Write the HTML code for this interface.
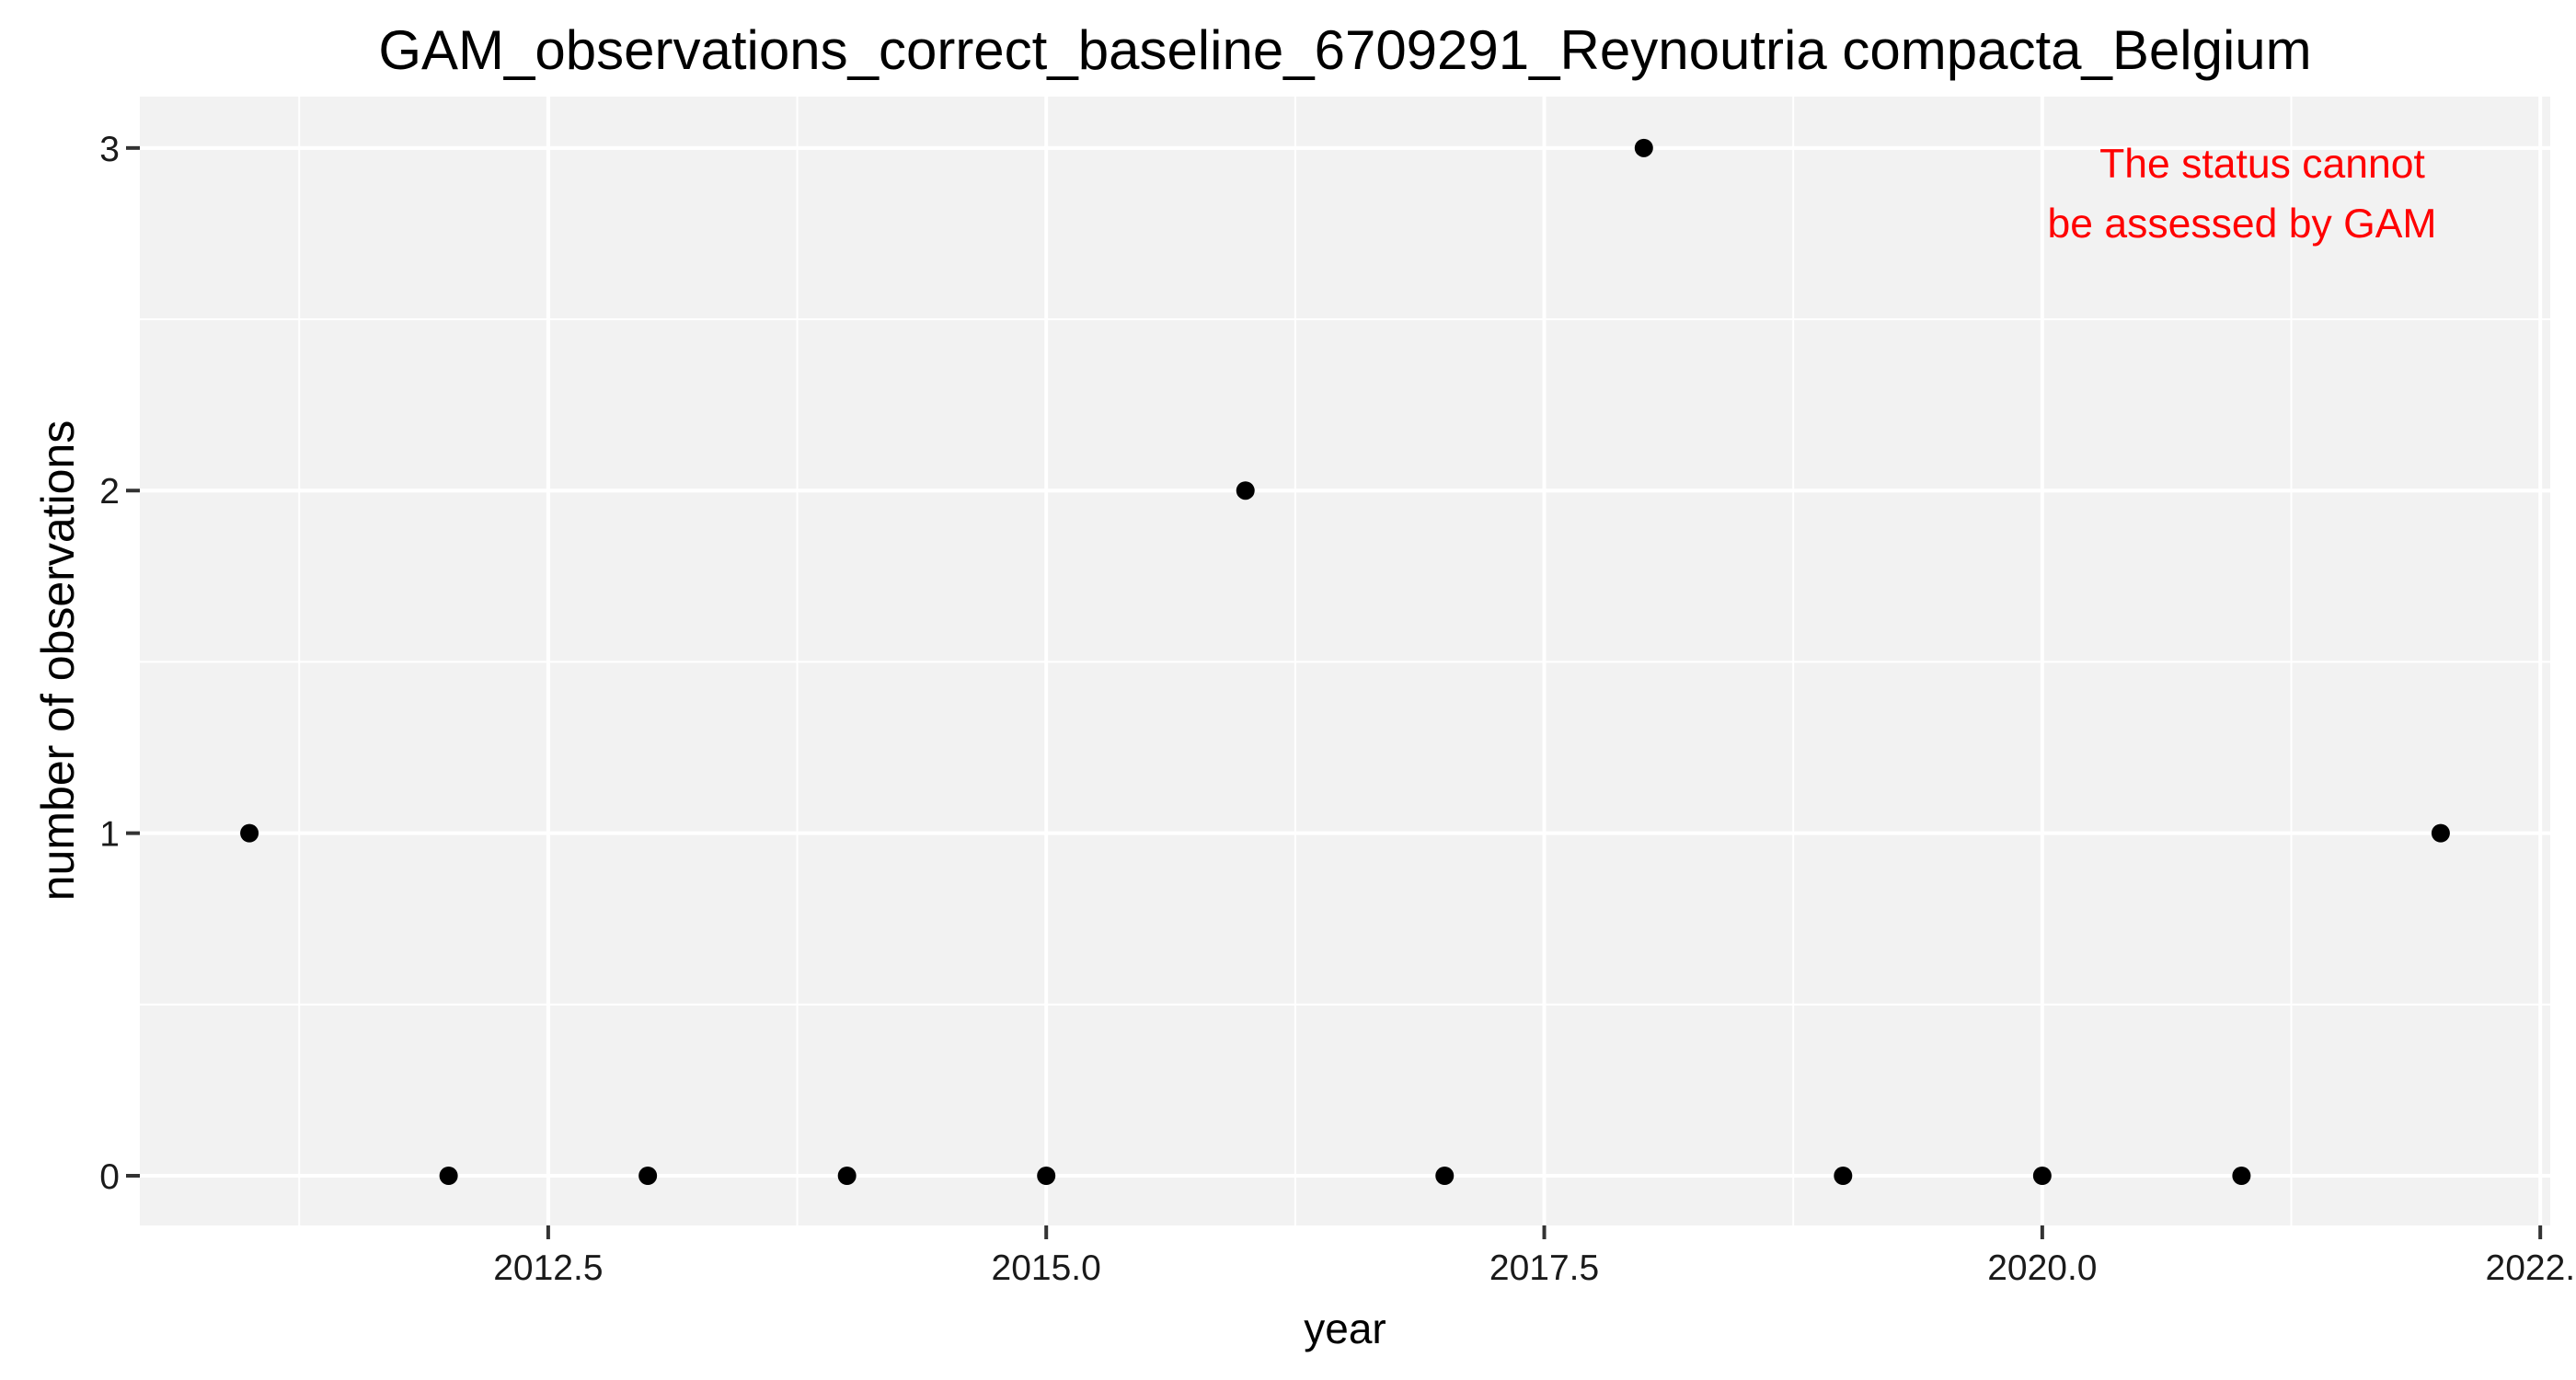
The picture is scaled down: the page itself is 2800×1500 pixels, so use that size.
<!DOCTYPE html>
<html><head><meta charset="utf-8"><style>html,body{margin:0;padding:0;background:#fff}svg{display:block}text{font-family:"Liberation Sans",Arial,sans-serif}</style></head>
<body>
<svg id="chart" width="2800" height="1500" viewBox="0 0 2800 1500" xmlns="http://www.w3.org/2000/svg">
<rect width="2800" height="1500" fill="#fff"/>
<text x="1462" y="75" font-size="60" text-anchor="middle" fill="#000">GAM_observations_correct_baseline_6709291_Reynoutria compacta_Belgium</text>
<g id="plot"></g>
</svg>
<script>
const years = [2011,2012,2013,2014,2015,2016,2017,2018,2019,2020,2021,2022];
const observations = [1,0,0,0,0,2,0,3,0,0,0,1];
const xTicks = [2012.5,2015.0,2017.5,2020.0,2022.5];
const xTickLabels = ["2012.5","2015.0","2017.5","2020.0","2022.5"];
const yTicks = [0,1,2,3];
const yTickLabels = ["0","1","2","3"];

const P = {l:152, r:2772, t:105, b:1332};
const xMin = 2010.45, xMax = 2022.55, yMin = -0.145, yMax = 3.15;
const X = v => P.l + (v - xMin) / (xMax - xMin) * (P.r - P.l);
const Y = v => P.b - (v - yMin) / (yMax - yMin) * (P.b - P.t);
const NS = "http://www.w3.org/2000/svg";
const g = document.getElementById('plot');
function mk(tag, attrs, parent){ const e=document.createElementNS(NS,tag); for(const k in attrs) e.setAttribute(k,attrs[k]); (parent||g).appendChild(e); return e; }

const bg = mk('rect',{x:P.l,y:P.t,width:P.r-P.l,height:P.b-P.t,fill:'#f2f2f2'});



for(let i=0;i<xTicks.length-1;i++){
  const m=(xTicks[i]+xTicks[i+1])/2;
  const l=mk('line',{x1:X(m),x2:X(m),y1:P.t,y2:P.b,stroke:'#fff','stroke-width':2});
  
  
}
{
  const m=xTicks[0]-1.25;
  const l=mk('line',{x1:X(m),x2:X(m),y1:P.t,y2:P.b,stroke:'#fff','stroke-width':2});
  
  
}
for(let i=0;i<yTicks.length-1;i++){
  const m=(yTicks[i]+yTicks[i+1])/2;
  const l=mk('line',{x1:P.l,x2:P.r,y1:Y(m),y2:Y(m),stroke:'#fff','stroke-width':2});
  
  
}
xTicks.forEach((t,i)=>{
  const l=mk('line',{x1:X(t),x2:X(t),y1:P.t,y2:P.b,stroke:'#fff','stroke-width':4});
  
  
  const tk=mk('line',{x1:X(t),x2:X(t),y1:P.b,y2:P.b+15,stroke:'#333','stroke-width':4});
  
  
  const tx=mk('text',{x:X(t),y:1391,'font-size':39,'text-anchor':'middle',fill:'#1a1a1a'});
  tx.textContent=xTickLabels[i];
  
  
});
yTicks.forEach((t,i)=>{
  const l=mk('line',{x1:P.l,x2:P.r,y1:Y(t),y2:Y(t),stroke:'#fff','stroke-width':4});
  
  
  const tk=mk('line',{x1:P.l-15,x2:P.l,y1:Y(t),y2:Y(t),stroke:'#333','stroke-width':4});
  
  
  const tx=mk('text',{x:P.l-22,y:Y(t)+14,'font-size':39,'text-anchor':'end',fill:'#1a1a1a'});
  tx.textContent=yTickLabels[i];
  
  
});
years.forEach((yr,i)=>{
  const c=mk('circle',{cx:X(yr),cy:Y(observations[i]),r:10,fill:'#000'});
  
  
});
const a1=mk('text',{x:2459,y:193,'font-size':44.5,'text-anchor':'middle',fill:'#ff0000'});
a1.textContent='The status cannot';


const a2=mk('text',{x:2437,y:258,'font-size':44.5,'text-anchor':'middle',fill:'#ff0000'});
a2.textContent='be assessed by GAM';


const xt=mk('text',{x:1462,y:1460,'font-size':46,'text-anchor':'middle',fill:'#000'});
xt.textContent='year';


const yt=mk('text',{x:0,y:0,'font-size':50,'text-anchor':'middle',fill:'#000',transform:'translate(80,718) rotate(-90)'});
yt.textContent='number of observations';


</script>
</body></html>
